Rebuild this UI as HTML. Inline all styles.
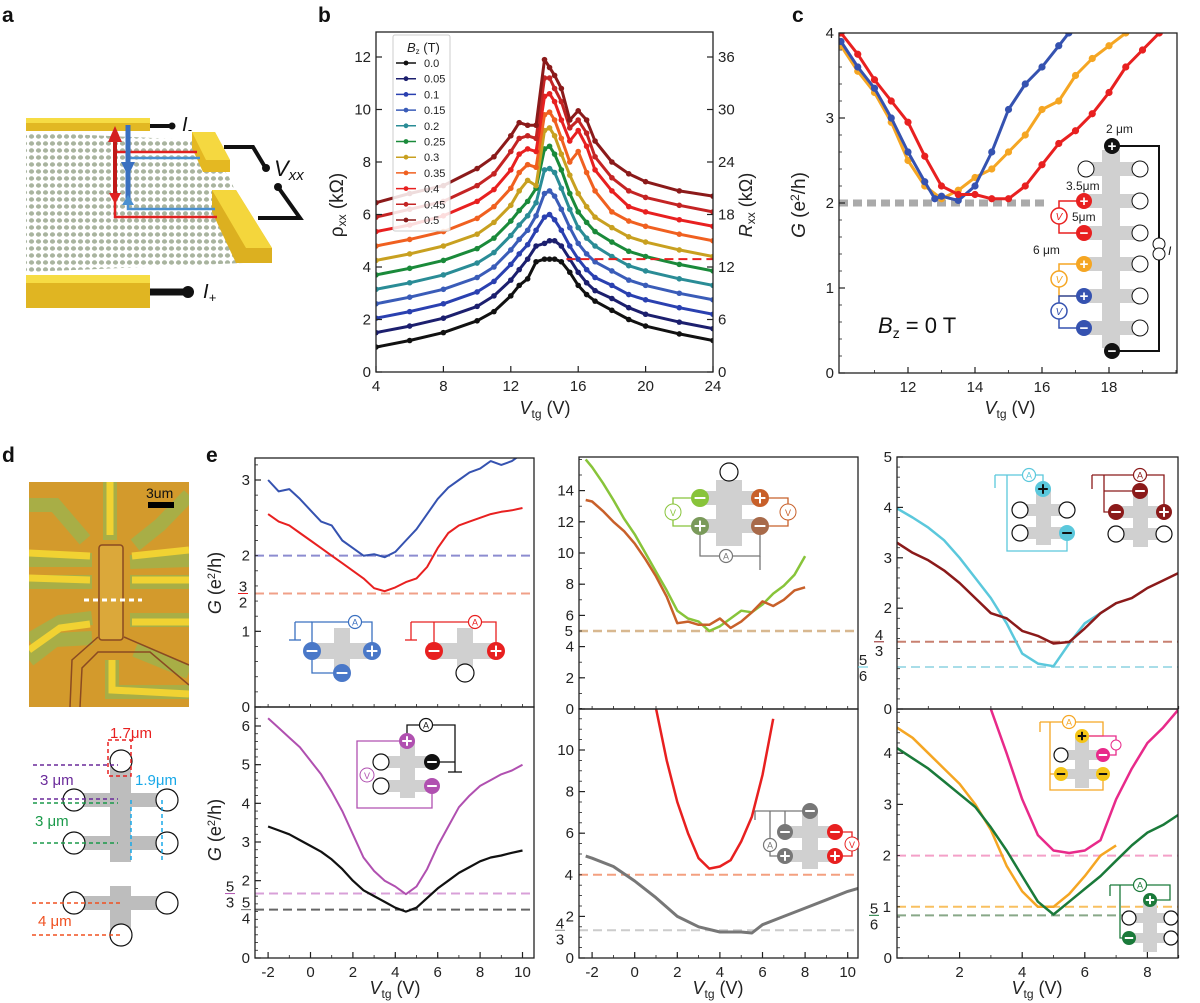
<!DOCTYPE html>
<html><head><meta charset="utf-8"><style>
html,body{margin:0;padding:0;background:#fff;}
svg{display:block;font-family:"Liberation Sans",sans-serif;}
.tk{font-size:15px;fill:#222;}
.pl{font-size:21px;font-weight:bold;fill:#111;}
</style></head><body>
<svg id="fig" width="1200" height="1003" viewBox="0 0 1200 1003" xmlns="http://www.w3.org/2000/svg">
<defs>
<pattern id="lat" width="7" height="7" patternUnits="userSpaceOnUse"><ellipse cx="3.5" cy="3.5" rx="2.6" ry="2.2" fill="#a9b49f"/></pattern>
<clipPath id="cb"><rect x="376" y="32" width="337" height="340"/></clipPath>
<clipPath id="cc"><rect x="839" y="33" width="338" height="340"/></clipPath>
<clipPath id="c1"><rect x="255" y="458" width="279" height="249"/></clipPath>
<clipPath id="c2"><rect x="255" y="707" width="279" height="251"/></clipPath>
<clipPath id="c3"><rect x="579" y="457" width="279" height="252"/></clipPath>
<clipPath id="c4"><rect x="579" y="709" width="279" height="249"/></clipPath>
<clipPath id="c5"><rect x="897" y="457" width="281" height="252"/></clipPath>
<clipPath id="c6"><rect x="897" y="709" width="281" height="249"/></clipPath>
<clipPath id="cph"><rect x="29" y="482" width="160" height="225"/></clipPath>
</defs>

<text class="pl" x="2" y="22">a</text>
<text class="pl" x="318" y="22">b</text>
<text class="pl" x="792" y="22">c</text>
<text class="pl" x="2" y="462">d</text>
<text class="pl" x="206" y="462">e</text>

<g>
<polygon points="26,132 195,140 228,175 268,262 26,272" fill="url(#lat)"/>
<rect x="26" y="118" width="124" height="13" fill="#e2b823"/>
<rect x="26" y="118" width="124" height="5" fill="#f6dc44"/>
<polygon points="192,132 215,132 230,160 230,172 203,172 192,148" fill="#e4b822"/>
<polygon points="192,132 215,132 230,160 206,160" fill="#f5d840"/>
<polygon points="212,190 236,190 272,248 272,263 236,263 212,212" fill="#dcb020"/>
<polygon points="212,190 236,190 272,248 246,248" fill="#f4d63c"/>
<rect x="26" y="275" width="124" height="33" fill="#e0b522"/>
<rect x="26" y="275" width="124" height="8" fill="#f6dc44"/>
<polyline points="150,126 172,126" stroke="#111" stroke-width="4" fill="none"/><circle cx="172" cy="126" r="3.5" fill="#111"/>
<polyline points="224,147 253,147 265,167" stroke="#111" stroke-width="4" fill="none"/><circle cx="266" cy="168" r="4" fill="#111"/>
<polyline points="278,187 300,218 258,218" stroke="#111" stroke-width="4" fill="none"/><circle cx="278" cy="187" r="4" fill="#111"/>
<polyline points="150,292 188,292" stroke="#111" stroke-width="7" fill="none"/><circle cx="188" cy="292" r="6" fill="#111"/>
<polyline points="115,152 197,152" stroke="#e02020" stroke-width="2.5" fill="none"/>
<polyline points="128,158 200,158" stroke="#4a90d0" stroke-width="2.5" fill="none"/>
<polyline points="115,198 115,217 217,217" stroke="#e02020" stroke-width="2.5" fill="none"/>
<polyline points="128,203 128,209 215,209" stroke="#4a90d0" stroke-width="2.5" fill="none"/>
<line x1="115" y1="140" x2="115" y2="200" stroke="#c01818" stroke-width="4"/><polygon points="108,142 122,142 115,126" fill="#d42020"/><polygon points="109,193 121,193 115,204" fill="#e02020"/>
<line x1="128" y1="125" x2="128" y2="200" stroke="#3a70c0" stroke-width="5"/><polygon points="121,162 135,162 128,176" fill="#3a70c0"/><polygon points="122,205 134,205 128,195" fill="#4a90d0"/>
<text x="182" y="131" font-size="20" font-style="italic" fill="#111">I<tspan font-size="13" dy="3">-</tspan></text>
<text x="274" y="176" font-size="22" font-style="italic" fill="#111">V<tspan font-size="15" dy="4">xx</tspan></text>
<text x="203" y="298" font-size="20" font-style="italic" fill="#111">I<tspan font-size="13" dy="4">+</tspan></text>
</g>

<g clip-path="url(#cph)">
<rect x="29" y="482" width="160" height="225" fill="#d39a2c"/>
<g stroke="#a8ae46" stroke-width="14" fill="none">
<polyline points="110,482 110,540"/><polyline points="29,505 55,505 85,540"/><polyline points="189,495 160,525 135,545"/>
<polyline points="29,560 92,560"/><polyline points="29,582 92,582"/><polyline points="29,640 60,622 92,618"/>
<polyline points="130,562 189,560"/><polyline points="130,582 189,582"/><polyline points="130,620 189,620"/>
<polyline points="112,660 112,692 189,692"/><polyline points="135,650 189,672"/><polyline points="29,660 55,640 92,638"/>
</g>
<g stroke="#f1d232" stroke-width="7" fill="none">
<polyline points="110,482 110,535"/><polyline points="29,553 90,556"/><polyline points="29,578 90,580"/><polyline points="29,650 60,628 90,624"/>
<polyline points="132,556 189,550"/><polyline points="132,580 189,580"/><polyline points="132,622 189,622"/><polyline points="112,660 112,690 189,694"/>
</g>
<polyline points="98,637 72,660 70,707" fill="none" stroke="#8a4a22" stroke-width="1.5"/>
<polyline points="124,637 189,665" fill="none" stroke="#8a4a22" stroke-width="1.5"/>
<polyline points="80,707 82,668 98,652 150,652 189,685" fill="none" stroke="#8a4a22" stroke-width="1.5"/>
<rect x="99" y="545" width="24" height="95" rx="3" fill="#dba83a" stroke="#8a4a22" stroke-width="1.5"/>
<line x1="84" y1="600" x2="142" y2="600" stroke="#fff" stroke-width="3" stroke-dasharray="5,4"/>
<rect x="148" y="502" width="26" height="6" fill="#000"/>
<text x="146" y="498" font-size="14" fill="#111">3um</text>
</g>

<g fill="none">
<rect x="110" y="761" width="21" height="101" fill="#bdbdbd"/>
<rect x="74" y="793" width="93" height="14" fill="#bdbdbd"/>
<rect x="74" y="836" width="93" height="14" fill="#bdbdbd"/>
<rect x="74" y="896" width="93" height="14" fill="#bdbdbd"/>
<rect x="110" y="886" width="21" height="49" fill="#bdbdbd"/>
<g stroke="#111" stroke-width="1.2" fill="#fff">
<circle cx="121" cy="761" r="11"/><circle cx="74" cy="800" r="11"/><circle cx="167" cy="800" r="11"/><circle cx="74" cy="843" r="11"/><circle cx="167" cy="843" r="11"/>
<circle cx="74" cy="903" r="11"/><circle cx="167" cy="903" r="11"/><circle cx="121" cy="935" r="11"/></g>
<g stroke-width="1.5" stroke-dasharray="4,3">
<rect x="108" y="740" width="23" height="36" stroke="#e82020"/>
<line x1="33" y1="765" x2="118" y2="765" stroke="#6a2a9a"/><line x1="33" y1="799" x2="118" y2="799" stroke="#6a2a9a"/>
<line x1="33" y1="803" x2="118" y2="803" stroke="#1a9a4a"/><line x1="33" y1="843" x2="118" y2="843" stroke="#1a9a4a"/>
<line x1="131" y1="800" x2="131" y2="862" stroke="#18a8e8"/><line x1="162" y1="800" x2="162" y2="862" stroke="#18a8e8"/>
<line x1="32" y1="903" x2="122" y2="903" stroke="#f05020"/><line x1="32" y1="935" x2="122" y2="935" stroke="#f05020"/></g>
<text x="110" y="738" font-size="15" fill="#e82020" stroke="none">1.7μm</text>
<text x="40" y="785" font-size="15" fill="#6a2a9a" stroke="none">3 μm</text>
<text x="135" y="785" font-size="15" fill="#18a8e8" stroke="none">1.9μm</text>
<text x="35" y="826" font-size="15" fill="#1a9a4a" stroke="none">3 μm</text>
<text x="38" y="926" font-size="15" fill="#f05020" stroke="none">4 μm</text>
</g>

<g id="charts"></g>
</svg>
<script>
const bVtg = [4,6,8,10,11,12,12.5,13,13.5,14,14.3,14.6,15,15.5,16,16.5,17,18,19,20,22,24];
const bField = ["0.0","0.05","0.1","0.15","0.2","0.25","0.3","0.35","0.4","0.45","0.5"];
const bRho0 = [0.95,1.2,1.5,1.95,2.3,2.9,3.3,3.55,4.2,4.3,4.3,4.3,4.2,3.8,3.3,2.95,2.7,2.35,2.0,1.75,1.45,1.2];
const bRho1 = [1.5,1.75,2.05,2.5,2.9,3.5,3.9,4.3,4.8,4.9,5.0,5.0,4.8,4.3,3.8,3.4,3.1,2.8,2.45,2.2,1.9,1.65];
const bRho2 = [2.05,2.3,2.6,3.05,3.45,4.1,4.5,4.85,5.4,5.9,6.0,5.8,5.4,4.8,4.3,3.9,3.6,3.3,2.95,2.75,2.45,2.2];
const bRho3 = [2.6,2.85,3.15,3.6,4.0,4.65,5.05,5.4,5.95,6.8,6.9,6.7,6.2,5.5,4.9,4.5,4.2,3.85,3.5,3.3,3.0,2.75];
const bRho4 = [3.15,3.4,3.7,4.15,4.55,5.2,5.6,5.95,6.45,7.7,7.75,7.6,7.0,6.2,5.5,5.1,4.8,4.4,4.05,3.85,3.55,3.3];
const bRho5 = [3.7,3.95,4.25,4.7,5.1,5.75,6.15,6.5,7.0,8.5,8.6,8.3,7.7,6.8,6.1,5.7,5.35,4.95,4.6,4.4,4.1,3.85];
const bRho6 = [4.25,4.5,4.8,5.25,5.7,6.35,6.9,7.3,7.1,9.2,9.3,9.0,8.3,7.5,6.8,6.3,5.9,5.5,5.15,4.95,4.65,4.4];
const bRho7 = [4.8,5.05,5.35,5.85,6.3,7.0,7.6,7.9,7.8,9.8,9.9,9.6,8.9,8.0,8.4,7.6,6.9,6.1,5.75,5.55,5.25,5.0];
const bRho8 = [5.35,5.6,5.95,6.5,6.95,7.7,8.3,8.5,8.4,10.5,10.6,10.3,9.6,8.8,9.2,8.6,7.7,6.9,6.3,6.1,5.8,5.55];
const bRho9 = [5.9,6.2,6.5,7.1,7.55,8.4,8.9,9.0,8.9,11.2,11.2,10.8,10.3,9.3,9.6,9.1,8.2,7.4,6.9,6.65,6.35,6.1];
const bRho10 = [6.45,6.8,7.1,7.75,8.2,9.0,9.5,9.4,9.4,11.9,11.6,11.3,10.8,9.6,9.95,9.6,8.8,8.0,7.55,7.25,6.9,6.7];
const bXTicks = [4,8,12,16,20,24];
const bYTicks = [0,2,4,6,8,10,12];
const bRTicks = [0,6,12,18,24,30,36];
const bRefLine = 4.3;
const cBlueX = [10,10.5,11,11.5,12,12.5,12.8,13,13.5,14,14.5,15,15.5,16,16.5,16.8];
const cBlueY = [3.9,3.6,3.35,3.0,2.6,2.25,2.05,2.08,2.03,2.2,2.6,3.1,3.4,3.6,3.85,4.0];
const cOrangeX = [10,10.5,11,11.5,12,12.5,13,13.5,14,14.5,15,15.5,16,16.5,17,17.5,18,18.5];
const cOrangeY = [3.85,3.55,3.3,2.95,2.5,2.2,2.05,2.15,2.3,2.4,2.6,2.8,3.1,3.2,3.5,3.7,3.85,4.0];
const cRedX = [10,10.5,11,11.5,12,12.5,13,13.5,14,14.5,15,15.5,16,16.5,17,17.5,18,18.5,19,19.5];
const cRedY = [4.0,3.75,3.45,3.2,2.95,2.55,2.2,2.1,2.1,2.05,2.05,2.2,2.45,2.7,2.85,3.05,3.3,3.6,3.8,4.0];
const cXTicks = [12,14,16,18];
const cYTicks = [0,1,2,3,4];
const eX1 = [-2,-1.5,-1,-0.5,0,0.5,1,1.5,2,2.5,3,3.5,4,4.5,5,5.5,6,6.5,7,7.5,8,8.5,9,9.5,10];
const e1Blue = [3.0,2.85,2.88,2.75,2.6,2.45,2.4,2.2,2.1,2.0,2.02,1.98,2.05,2.2,2.35,2.55,2.75,2.9,3.0,3.1,3.15,3.25,3.2,3.25,3.35];
const e1Red = [2.55,2.45,2.4,2.3,2.2,2.1,2.0,1.9,1.8,1.7,1.57,1.53,1.58,1.65,1.7,1.85,2.1,2.3,2.4,2.45,2.5,2.55,2.58,2.6,2.63];
const e2Mag = [6.2,5.95,5.7,5.45,5.1,4.75,4.3,3.8,3.2,2.6,2.25,2.0,1.85,1.65,1.85,2.3,2.9,3.4,3.9,4.2,4.45,4.6,4.75,4.85,5.0];
const e2Black = [3.4,3.3,3.2,3.05,2.9,2.75,2.55,2.3,2.0,1.75,1.6,1.45,1.3,1.2,1.3,1.55,1.8,2.0,2.2,2.35,2.5,2.6,2.65,2.72,2.78];
const e3X = [-2.3,-2,-1.5,-1,-0.5,0,0.5,1,1.5,2,2.5,3,3.5,4,4.5,5,5.5,6,6.5,7,7.5,8];
const e3Green = [16,15.5,14.5,13.4,12.2,11.2,10.0,8.8,7.6,6.3,5.8,5.6,5.0,5.3,5.8,6.3,6.2,6.7,7.4,7.9,8.6,9.8];
const e3Orange = [13.4,13.3,12.7,12.0,11.4,10.6,9.6,8.5,7.2,5.5,5.6,5.4,5.4,5.8,5.2,5.6,6.2,6.9,6.6,7.0,7.6,7.8];
const e4RedX = [1,1.5,2,2.5,3,3.5,4,4.5,5,5.5,6,6.5];
const e4Red = [12,9.5,7.5,6.0,4.8,4.3,4.4,4.7,5.6,6.8,8.8,11.5];
const e4GrayX = [-2.3,-2,-1,0,1,2,3,4,5,5.5,6,7,8,9,10,10.5];
const e4Gray = [4.9,4.8,4.4,3.7,2.9,2.0,1.5,1.25,1.25,1.2,1.6,2.0,2.4,2.8,3.2,3.35];
const e5CyanX = [0,0.5,1,1.5,2,2.5,3,3.5,4,4.5,5,5.5,6,6.5,7];
const e5Cyan = [3.98,3.8,3.6,3.35,3.0,2.6,2.2,1.7,1.1,0.9,0.85,1.3,1.7,1.9,2.1];
const e5DrX = [0,0.5,1,1.5,2,2.5,3,3.5,4,4.5,5,5.5,6,6.5,7,7.5,8,8.5,9];
const e5Dr = [3.3,3.1,2.95,2.75,2.5,2.2,1.9,1.8,1.55,1.45,1.3,1.33,1.6,1.9,2.1,2.2,2.4,2.55,2.7];
const e6PinkX = [3,3.5,4,4.5,5,5.5,6,6.5,7,7.5,8,8.5,9];
const e6Pink = [4.86,4.0,3.1,2.4,2.1,2.05,2.1,2.3,3.1,3.7,4.2,4.5,4.86];
const e6OrangeX = [0,0.5,1,1.5,2,2.5,3,3.5,4,4.5,5,5.5,6,6.5,7];
const e6Orange = [4.5,4.3,4.0,3.7,3.4,3.0,2.5,1.8,1.3,1.0,1.0,1.25,1.6,2.0,2.2];
const e6GreenX = [0,0.5,1,1.5,2,2.5,3,3.5,4,4.5,5,5.5,6,6.5,7,7.5,8,8.5,9];
const e6Green = [4.1,3.9,3.7,3.45,3.2,2.95,2.55,2.1,1.6,1.1,0.85,1.1,1.35,1.6,1.9,2.2,2.45,2.6,2.8];
const eXTicksLM = [-2,0,2,4,6,8,10];
const eXTicksR = [2,4,6,8];

const NS = "http://www.w3.org/2000/svg";
const root = document.getElementById('charts');
function mk(tag, attrs, parent){ const e=document.createElementNS(NS,tag); for(const k in attrs) e.setAttribute(k,attrs[k]); (parent||root).appendChild(e); return e; }
function lin(d0,d1,r0,r1){ return v=>r0+(v-d0)*(r1-r0)/(d1-d0); }
function pts(xs,ys,sx,sy){ return xs.map((x,i)=>sx(x).toFixed(1)+','+sy(ys[i]).toFixed(1)).join(' '); }
function txt(x,y,s,attrs,parent){ const t=mk('text',Object.assign({x:x,y:y},attrs||{}),parent); t.textContent=s; return t; }
function frame(x0,y0,x1,y1,name){ const r=mk('rect',{x:x0,y:y0,width:x1-x0,height:y1-y0,fill:'none',stroke:'#222','stroke-width':1.3});   return r; }
function xticks(ticks,sx,yb,len,labels,name){ const g=mk('g',{});  
  ticks.forEach(v=>{ mk('line',{x1:sx(v),x2:sx(v),y1:yb,y2:yb-len,stroke:'#222','stroke-width':1.2},g); if(labels) txt(sx(v),yb+19,String(v),{class:'tk','text-anchor':'middle'},g); }); return g; }
function yticks(ticks,sy,xl,len,labels,name,dir){ const g=mk('g',{});  
  ticks.forEach(v=>{ mk('line',{x1:xl,x2:xl+len*(dir||1),y1:sy(v),y2:sy(v),stroke:'#222','stroke-width':1.2},g); if(labels) txt(xl-5*(dir||1),sy(v)+5,String(v),{class:'tk','text-anchor':(dir||1)>0?'end':'start'},g); }); return g; }
function minor(from,to,step,sx,fixed,len,axis,g){ for(let v=from; v<=to+1e-9; v+=step){ if(axis==='x') mk('line',{x1:sx(v),x2:sx(v),y1:fixed,y2:fixed-len,stroke:'#222','stroke-width':0.8},g); else mk('line',{x1:fixed,x2:fixed+len,y1:sx(v),y2:sx(v),stroke:'#222','stroke-width':0.8},g);} }
function curve(xs,ys,sx,sy,color,w,clip,name){ const p=mk('polyline',{points:pts(xs,ys,sx,sy),fill:'none',stroke:color,'stroke-width':w,'stroke-linejoin':'round','clip-path':'url(#'+clip+')'});   return p; }
function hdash(y,x0,x1,color,w,name){ const l=mk('line',{x1:x0,x2:x1,y1:y,y2:y,stroke:color,'stroke-width':w||2,'stroke-dasharray':'9,5'});   return l; }
function frac(x,y,n,d,color,name){ const g=mk('g',{});  
  txt(x,y-2,n,{class:'tk','text-anchor':'middle',fill:color},g); mk('line',{x1:x-5,x2:x+5,y1:y,y2:y,stroke:color,'stroke-width':1},g); txt(x,y+14,d,{class:'tk','text-anchor':'middle',fill:color},g); return g; }

const bx = lin(4,24,376,713), by = lin(0,12,372,57);
const bColors = ['#111111','#1c1f6e','#2a40b0','#3a5cb8','#2a8c96','#1a8a3a','#c8a020','#f06020','#e82020','#c42424','#8b1a1a'];
const bSeries = [bRho0,bRho1,bRho2,bRho3,bRho4,bRho5,bRho6,bRho7,bRho8,bRho9,bRho10];
bSeries.forEach((s,i)=>{
  curve(bVtg,s,bx,by,bColors[i],3,'cb','rho-curve-'+bField[i]);
  const g=mk('g',{fill:bColors[i],'clip-path':'url(#cb)'});
  
  
  s.forEach((v,j)=>mk('circle',{cx:bx(bVtg[j]),cy:by(v),r:2.8},g));
});
hdash(by(bRefLine),bx(15.3),713,'#e82020',2,'rho-ref-line');
frame(376,32,713,372,'plot-frame-b');
xticks(bXTicks,bx,372,6,true,'x-axis-b');
yticks(bYTicks,by,376,6,true,'y-axis-left-b');
const byR = v=>by(v/3);
yticks(bRTicks,byR,713,6,true,'y-axis-right-b',-1);
{ const t=txt(343,205,'',{'font-size':19,fill:'#222','text-anchor':'middle',transform:'rotate(-90 343 205)'}); t.innerHTML='ρ<tspan font-size="12" dy="3">xx</tspan><tspan dy="-3"> (kΩ)</tspan>';   }
{ const t=txt(752,205,'',{'font-size':18,fill:'#222','text-anchor':'middle',transform:'rotate(-90 752 205)'}); t.innerHTML='<tspan font-style="italic">R</tspan><tspan font-size="12" dy="3">xx</tspan><tspan dy="-3"> (kΩ)</tspan>';   }
{ const t=txt(545,414,'',{'font-size':18,fill:'#222','text-anchor':'middle'}); t.innerHTML='<tspan font-style="italic">V</tspan><tspan font-size="12" dy="4">tg</tspan><tspan dy="-4"> (V)</tspan>';   }
{ const g=mk('g',{});  
  mk('rect',{x:393,y:35,width:57,height:196,fill:'#fff','fill-opacity':0.85,stroke:'#ccc',rx:2},g);
  const t=txt(407,52,'',{'font-size':13,fill:'#222'},g); t.innerHTML='<tspan font-style="italic">B</tspan><tspan font-size="8" dy="2">z</tspan><tspan dy="-2"> (T)</tspan>';
  bField.forEach((f,i)=>{ const y=63+i*15.7; const e=mk('g',{},g);  
    mk('line',{x1:396,x2:416,y1:y,y2:y,stroke:bColors[i],'stroke-width':1.5},e); mk('circle',{cx:406,cy:y,r:2.4,fill:bColors[i]},e); txt(424,y+4,f,{'font-size':11,fill:'#222'},e); });
}

const cx = lin(12,18,908,1109), cy = lin(0,4,373,33);
hdash(cy(2),839,cx(16.2),'#aaaaaa',7,'quantized-level-c');
[[cOrangeX,cOrangeY,'#f5a623','orange'],[cBlueX,cBlueY,'#3552b0','blue'],[cRedX,cRedY,'#e82020','red']].forEach(a=>{
  curve(a[0],a[1],cx,cy,a[2],3,'cc','conductance-curve-'+a[3]);
  const g=mk('g',{fill:a[2],'clip-path':'url(#cc)'});
  
  
  a[0].forEach((x,j)=>mk('circle',{cx:cx(x),cy:cy(a[1][j]),r:3.6},g));
});
frame(839,33,1177,373,'plot-frame-c');
{ const g=xticks(cXTicks,cx,373,6,true,'x-axis-c'); minor(11,20,1,cx,373,3,'x',g); }
{ const g=yticks(cYTicks,cy,839,6,true,'y-axis-c'); minor(0,4,0.2,cy,839,3,'y',g); }
{ const t=txt(805,205,'',{'font-size':19,fill:'#222','text-anchor':'middle',transform:'rotate(-90 805 205)'}); t.innerHTML='<tspan font-style="italic">G</tspan> (e<tspan font-size="12" dy="-6">2</tspan><tspan dy="6">/h)</tspan>';   }
{ const t=txt(1010,414,'',{'font-size':18,fill:'#222','text-anchor':'middle'}); t.innerHTML='<tspan font-style="italic">V</tspan><tspan font-size="12" dy="4">tg</tspan><tspan dy="-4"> (V)</tspan>';   }
{ const t=txt(878,333,'',{'font-size':22,fill:'#111'}); t.innerHTML='<tspan font-style="italic">B</tspan><tspan font-size="14" dy="5">z</tspan><tspan dy="-5"> = 0 T</tspan>';   }
{ const g=mk('g',{});  
  const rows=[169,201,233,264,296,328];
  mk('rect',{x:1102,y:150,width:18,height:198,fill:'#d0d0d0'},g);
  rows.forEach(r=>mk('rect',{x:1086,y:r-7,width:54,height:14,fill:'#d0d0d0'},g));
  mk('polyline',{points:'1112,146 1159,146 1159,351 1112,351',fill:'none',stroke:'#111','stroke-width':2},g);
  mk('circle',{cx:1159,cy:244,r:6,fill:'#fff',stroke:'#111'},g); mk('circle',{cx:1159,cy:254,r:6,fill:'#fff',stroke:'#111'},g);
  txt(1168,255,'I',{'font-size':12,'font-style':'italic',fill:'#111'},g);
  rows.forEach(r=>mk('circle',{cx:1140,cy:r,r:8,fill:'#fff',stroke:'#111'},g));
  mk('circle',{cx:1086,cy:169,r:8,fill:'#fff',stroke:'#111'},g);
  const nodes=[[1112,146,'#111','+'],[1112,351,'#111','−'],[1084,201,'#e82020','+'],[1084,233,'#e82020','−'],[1084,264,'#f5a623','+'],[1084,296,'#3552b0','+'],[1084,328,'#3552b0','−']];
  [['#e82020',201,233,216],['#f5a623',264,296,279],['#3552b0',296,328,311]].forEach(w=>{ mk('polyline',{points:'1084,'+w[1]+' 1059,'+w[1]+' 1059,'+w[2]+' 1084,'+w[2],fill:'none',stroke:w[0],'stroke-width':1.5},g); mk('circle',{cx:1059,cy:w[3],r:8,fill:'#fff',stroke:w[0],'stroke-width':1.5},g); txt(1059,w[3]+4,'V',{'font-size':10,'font-style':'italic','text-anchor':'middle',fill:w[0]},g); });
  nodes.forEach(n=>{ mk('circle',{cx:n[0],cy:n[1],r:8,fill:n[2]},g); txt(n[0],n[1]+5,n[3],{'font-size':15,'font-weight':'bold','text-anchor':'middle',fill:'#fff'},g); });
  txt(1106,133,'2 μm',{'font-size':12,fill:'#222'},g); txt(1066,190,'3.5μm',{'font-size':12,fill:'#222'},g); txt(1072,221,'5μm',{'font-size':12,fill:'#222'},g); txt(1033,254,'6 μm',{'font-size':12,fill:'#222'},g);
}

const eLx = lin(0,10,310.5,522.5), e1y = lin(0,3,707,480), e2y = lin(0,6,958,726);
const eMx = lin(0,10,634.7,847.7), e3y = lin(0,14,709,490.6), e4y = lin(0,10,958,750);
const eRx = lin(0,8,897,1147.4), e5y = lin(0,5,709,457), e6y = lin(0,4,958,753.2);

hdash(e1y(2),255,534,'#8c8cd0',2,'level-2-e1'); hdash(e1y(1.5),255,534,'#f0a088',2,'level-3-2-e1');
curve(eX1,e1Blue,eLx,e1y,'#3552b0',2,'c1','curve-blue-e1'); curve(eX1,e1Red,eLx,e1y,'#e82020',2,'c1','curve-red-e1');
hdash(e2y(5/3),255,534,'#d8a0d8',2,'level-5-3-e2'); hdash(e2y(1.25),255,534,'#666',2,'level-5-4-e2');
curve(eX1,e2Mag,eLx,e2y,'#b050b0',2,'c2','curve-magenta-e2'); curve(eX1,e2Black,eLx,e2y,'#111',2.2,'c2','curve-black-e2');
hdash(e3y(5),579,858,'#d8b890',2.5,'level-5-e3');
curve(e3X,e3Green,eMx,e3y,'#88c43a',2.5,'c3','curve-green-e3'); curve(e3X,e3Orange,eMx,e3y,'#c8602a',2.5,'c3','curve-orange-e3');
hdash(e4y(4),579,858,'#f4a080',2,'level-4-e4'); hdash(e4y(4/3),579,858,'#cccccc',2,'level-4-3-e4');
curve(e4RedX,e4Red,eMx,e4y,'#e82020',2.5,'c4','curve-red-e4'); curve(e4GrayX,e4Gray,eMx,e4y,'#777',3,'c4','curve-gray-e4');
hdash(e5y(4/3),897,1178,'#c88070',2,'level-4-3-e5'); hdash(e5y(5/6),897,1178,'#a8dde8',2,'level-5-6-e5');
curve(e5CyanX,e5Cyan,eRx,e5y,'#5bc8dc',2.5,'c5','curve-cyan-e5'); curve(e5DrX,e5Dr,eRx,e5y,'#8b1a1a',2.5,'c5','curve-darkred-e5');
hdash(e6y(2),897,1178,'#f4a0c8',2,'level-2-e6'); hdash(e6y(1),897,1178,'#f8c060',2,'level-1-e6'); hdash(e6y(5/6),897,1178,'#88a888',2,'level-5-6-e6');
curve(e6PinkX,e6Pink,eRx,e6y,'#e82a8a',2.5,'c6','curve-pink-e6'); curve(e6OrangeX,e6Orange,eRx,e6y,'#f5a623',2.5,'c6','curve-orange-e6'); curve(e6GreenX,e6Green,eRx,e6y,'#1a7a3a',2.5,'c6','curve-green-e6');

frame(255,458,534,707,'plot-frame-e1'); frame(255,707,534,958,'plot-frame-e2');
frame(579,457,858,709,'plot-frame-e3'); frame(579,709,858,958,'plot-frame-e4');
frame(897,457,1178,709,'plot-frame-e5'); frame(897,709,1178,958,'plot-frame-e6');
{ const g=xticks(eXTicksLM,eLx,958,6,true,'x-axis-e-left'); minor(-2,10,1,eLx,958,3,'x',g); minor(-2,10,1,eLx,707,3,'x',g); }
{ const g=xticks(eXTicksLM,eMx,958,6,true,'x-axis-e-middle'); minor(-2,10,1,eMx,958,3,'x',g); minor(-2,10,1,eMx,709,3,'x',g); }
{ const g=xticks(eXTicksR,eRx,958,6,true,'x-axis-e-right'); minor(1,9,1,eRx,958,3,'x',g); minor(1,9,1,eRx,709,3,'x',g); }
{ const g=yticks([0,1,3],e1y,255,6,true,'y-axis-e1'); minor(0,3.2,0.2,e1y,255,3,'y',g); }
{ const g=yticks([0,2,3,4,5,6],e2y,255,6,true,'y-axis-e2'); minor(0,6.2,0.2,e2y,255,3,'y',g); }
{ const g=yticks([0,2,4,6,8,10,12,14],e3y,579,6,true,'y-axis-e3'); minor(0,16,1,e3y,579,3,'y',g); }
{ const g=yticks([0,2,6,8,10],e4y,579,6,true,'y-axis-e4'); minor(0,12,0.5,e4y,579,3,'y',g); }
{ const g=yticks([0,2,3,4,5],e5y,897,6,true,'y-axis-e5'); minor(0,5,0.2,e5y,897,3,'y',g); }
{ const g=yticks([0,3,4],e6y,897,6,true,'y-axis-e6'); minor(0,4.8,0.2,e6y,897,3,'y',g); }
txt(250,e1y(2)+5,'2',{class:'tk','text-anchor':'end',fill:'#3552b0'});
frac(243,e1y(1.5),'3','2','#e82020','label-3-2-e1');
frac(230,e2y(5/3),'5','3','#b050b0','label-5-3-e2');
frac(246,e2y(1.25),'5','4','#666','label-5-4-e2');
txt(573,e3y(5)+5,'5',{class:'tk','text-anchor':'end',fill:'#88c43a'});
txt(573,e4y(4)+5,'4',{class:'tk','text-anchor':'end',fill:'#e82020'});
frac(560,e4y(4/3),'4','3','#888','label-4-3-e4');
frac(879,e5y(4/3),'4','3','#8b1a1a','label-4-3-e5');
frac(863,e5y(5/6),'5','6','#5bc8dc','label-5-6-e5');
txt(891,e6y(2)+5,'2',{class:'tk','text-anchor':'end',fill:'#e82a8a'});
txt(891,e6y(1)+5,'1',{class:'tk','text-anchor':'end',fill:'#f5a623'});
frac(874,e6y(5/6),'5','6','#1a7a3a','label-5-6-e6');
[[583,'y-axis-title-e1'],[830,'y-axis-title-e2']].forEach(a=>{ const t=txt(221,a[0],'',{'font-size':18,fill:'#222','text-anchor':'middle',transform:'rotate(-90 221 '+a[0]+')'}); t.innerHTML='<tspan font-style="italic">G</tspan> (e<tspan font-size="11" dy="-6">2</tspan><tspan dy="6">/h)</tspan>';   });
[[395,'x-axis-title-e-left'],[718,'x-axis-title-e-middle'],[1037,'x-axis-title-e-right']].forEach(a=>{ const t=txt(a[0],994,'',{'font-size':18,fill:'#222','text-anchor':'middle'}); t.innerHTML='<tspan font-style="italic">V</tspan><tspan font-size="12" dy="4">tg</tspan><tspan dy="-4"> (V)</tspan>';   });

function node(g,x,y,fill,sign,r){ r=r||8; mk('circle',{cx:x,cy:y,r:r,fill:fill||'#fff',stroke:fill?'none':'#111','stroke-width':1.2},g); if(sign){ const sc=(fill==='#f5c518'||fill==='#5bc8dc')?'#111':'#fff'; mk('line',{x1:x-r*0.6,x2:x+r*0.6,y1:y,y2:y,stroke:sc,'stroke-width':2},g); if(sign==='+') mk('line',{x1:x,x2:x,y1:y-r*0.6,y2:y+r*0.6,stroke:sc,'stroke-width':2},g);} }
function meter(g,x,y,c,l){ mk('circle',{cx:x,cy:y,r:6.5,fill:'#fff',stroke:c,'stroke-width':1.2},g); txt(x,y+3.5,l,{'font-size':9,'text-anchor':'middle',fill:c},g); }
function wire(g,p,c){ mk('polyline',{points:p,fill:'none',stroke:c,'stroke-width':1.3},g); }
function inset(name){ const g=mk('g',{});   return g; }
{ const g=inset('circuit-inset-e1-blue'); mk('rect',{x:312,y:643,width:60,height:16,fill:'#d0d0d0'},g); mk('rect',{x:334,y:628,width:16,height:50,fill:'#d0d0d0'},g);
  wire(g,'312,651 312,622 372,622 372,651','#3a70c0'); wire(g,'312,645 312,673 342,673','#3a70c0'); wire(g,'295,622 312,622','#3a70c0'); wire(g,'295,622 295,640','#3a70c0'); wire(g,'289,640 301,640','#3a70c0');
  meter(g,355,622,'#3a70c0','A'); node(g,312,651,'#4a78c8','−',9); node(g,372,651,'#4a78c8','+',9); node(g,342,673,'#4a78c8','−',9); }
{ const g=inset('circuit-inset-e1-red'); mk('rect',{x:428,y:643,width:68,height:16,fill:'#d0d0d0'},g); mk('rect',{x:457,y:628,width:16,height:45,fill:'#d0d0d0'},g);
  wire(g,'411,622 496,622 496,651','#e82020'); wire(g,'434,622 434,651','#e82020'); wire(g,'411,622 411,640','#e82020'); wire(g,'405,640 417,640','#e82020');
  meter(g,475,622,'#e82020','A'); node(g,434,651,'#e82020','−',9); node(g,496,651,'#e82020','+',9); node(g,465,673,null,null,9); }
{ const g=inset('circuit-inset-e2'); mk('rect',{x:381,y:756,width:51,height:12,fill:'#d0d0d0'},g); mk('rect',{x:381,y:780,width:51,height:12,fill:'#d0d0d0'},g); mk('rect',{x:400,y:741,width:15,height:57,fill:'#d0d0d0'},g);
  wire(g,'407,741 407,725 455,725 455,772','#111'); wire(g,'432,762 455,762','#111'); wire(g,'448,772 462,772','#111'); wire(g,'407,741 357,741 357,808 432,808 432,786','#b050b0');
  meter(g,426,725,'#111','A'); mk('circle',{cx:367,cy:775,r:7,fill:'#fff',stroke:'#b050b0'},g); txt(367,779,'V',{'font-size':9,'text-anchor':'middle',fill:'#b050b0'},g);
  node(g,407,741,'#b050b0','+'); node(g,381,762); node(g,432,762,'#111','−'); node(g,381,786); node(g,432,786,'#b050b0','−'); }
{ const g=inset('circuit-inset-e3'); mk('rect',{x:716,y:480,width:26,height:66,fill:'#d0d0d0'},g); mk('rect',{x:700,y:491,width:60,height:14,fill:'#d0d0d0'},g); mk('rect',{x:700,y:519,width:60,height:14,fill:'#d0d0d0'},g);
  wire(g,'700,498 673,498 673,526 700,526','#88c43a'); wire(g,'760,498 788,498 788,526 760,526','#c8602a'); wire(g,'700,526 700,556 760,556 760,526','#777'); wire(g,'760,556 760,570','#777');
  mk('circle',{cx:673,cy:512,r:8,fill:'#fff',stroke:'#88c43a'},g); txt(673,516,'V',{'font-size':9,'text-anchor':'middle',fill:'#88c43a'},g);
  mk('circle',{cx:788,cy:512,r:8,fill:'#fff',stroke:'#c8602a'},g); txt(788,516,'V',{'font-size':9,'text-anchor':'middle',fill:'#c8602a'},g);
  meter(g,726,556,'#777','A'); node(g,729,472,null,null,9); node(g,700,498,'#88c43a','−',9); node(g,760,498,'#c8602a','+',9); node(g,700,526,'#7a9a5a','+',9); node(g,760,526,'#a86a4a','−',9); }
{ const g=inset('circuit-inset-e4'); mk('rect',{x:802,y:811,width:16,height:58,fill:'#d0d0d0'},g); mk('rect',{x:785,y:826,width:50,height:12,fill:'#d0d0d0'},g); mk('rect',{x:785,y:850,width:50,height:12,fill:'#d0d0d0'},g);
  wire(g,'810,811 755,811 755,820','#777'); wire(g,'770,811 770,845 770,856 785,856','#777'); wire(g,'785,811 785,832','#777'); wire(g,'835,832 852,832 852,856 835,856','#e82020');
  mk('circle',{cx:852,cy:844,r:7,fill:'#fff',stroke:'#e82020'},g); txt(852,848,'V',{'font-size':9,'text-anchor':'middle',fill:'#e82020'},g);
  meter(g,770,845,'#777','A'); node(g,810,811,'#777','−'); node(g,785,832,'#777','−'); node(g,835,832,'#e82020','−'); node(g,785,856,'#777','+'); node(g,835,856,'#e82020','+'); }
{ const g=inset('circuit-inset-e5-cyan'); mk('rect',{x:1036,y:489,width:15,height:56,fill:'#d0d0d0'},g); mk('rect',{x:1020,y:504,width:47,height:12,fill:'#d0d0d0'},g); mk('rect',{x:1020,y:527,width:47,height:12,fill:'#d0d0d0'},g);
  wire(g,'995,475 1043,475 1043,489','#5bc8dc'); wire(g,'995,475 995,488','#5bc8dc'); wire(g,'1007,475 1007,551 1067,551 1067,533','#5bc8dc');
  meter(g,1029,475,'#5bc8dc','A'); node(g,1043,489,'#5bc8dc','+'); node(g,1020,510); node(g,1067,510); node(g,1020,533); node(g,1067,533,'#5bc8dc','−'); }
{ const g=inset('circuit-inset-e5-darkred'); mk('rect',{x:1133,y:491,width:15,height:56,fill:'#d0d0d0'},g); mk('rect',{x:1116,y:506,width:48,height:12,fill:'#d0d0d0'},g); mk('rect',{x:1116,y:528,width:48,height:12,fill:'#d0d0d0'},g);
  wire(g,'1092,475 1164,475 1164,512','#8b1a1a'); wire(g,'1092,475 1092,489','#8b1a1a'); wire(g,'1104,475 1104,512 1116,512','#8b1a1a'); wire(g,'1104,491 1140,491','#8b1a1a');
  meter(g,1140,475,'#8b1a1a','A'); node(g,1140,491,'#8b1a1a','−'); node(g,1116,512,'#8b1a1a','−'); node(g,1164,512,'#8b1a1a','+'); node(g,1116,534); node(g,1164,534); }
{ const g=inset('circuit-inset-e6-orange'); mk('rect',{x:1075,y:736,width:14,height:52,fill:'#d0d0d0'},g); mk('rect',{x:1061,y:750,width:42,height:10,fill:'#d0d0d0'},g); mk('rect',{x:1061,y:769,width:42,height:10,fill:'#d0d0d0'},g);
  wire(g,'1040,722 1103,722 1103,736 1082,736','#f5a623'); wire(g,'1040,722 1040,732','#f5a623'); wire(g,'1050,722 1050,790 1103,790 1103,774','#f5a623'); wire(g,'1050,774 1061,774','#f5a623');
  wire(g,'1082,736 1116,736 1116,755 1103,755','#e82a8a'); mk('circle',{cx:1116,cy:745,r:5,fill:'#fff',stroke:'#e82a8a'},g);
  meter(g,1069,722,'#f5a623','A'); node(g,1082,736,'#f5c518','+',7); node(g,1061,755,null,null,7); node(g,1103,755,'#e82a8a','−',7); node(g,1061,774,'#f5c518','−',7); node(g,1103,774,'#f5c518','−',7); }
{ const g=inset('circuit-inset-e6-green'); mk('rect',{x:1143,y:900,width:14,height:52,fill:'#d0d0d0'},g); mk('rect',{x:1129,y:913,width:42,height:10,fill:'#d0d0d0'},g); mk('rect',{x:1129,y:933,width:42,height:10,fill:'#d0d0d0'},g);
  wire(g,'1110,885 1170,885 1170,900 1150,900','#1a7a3a'); wire(g,'1110,885 1110,896','#1a7a3a'); wire(g,'1120,885 1120,938 1129,938','#1a7a3a');
  meter(g,1140,885,'#1a7a3a','A'); node(g,1150,900,'#1a7a3a','+',7); node(g,1129,918,null,null,7); node(g,1171,918,null,null,7); node(g,1129,938,'#1a7a3a','−',7); node(g,1171,938,null,null,7); }
</script>
</body></html>
